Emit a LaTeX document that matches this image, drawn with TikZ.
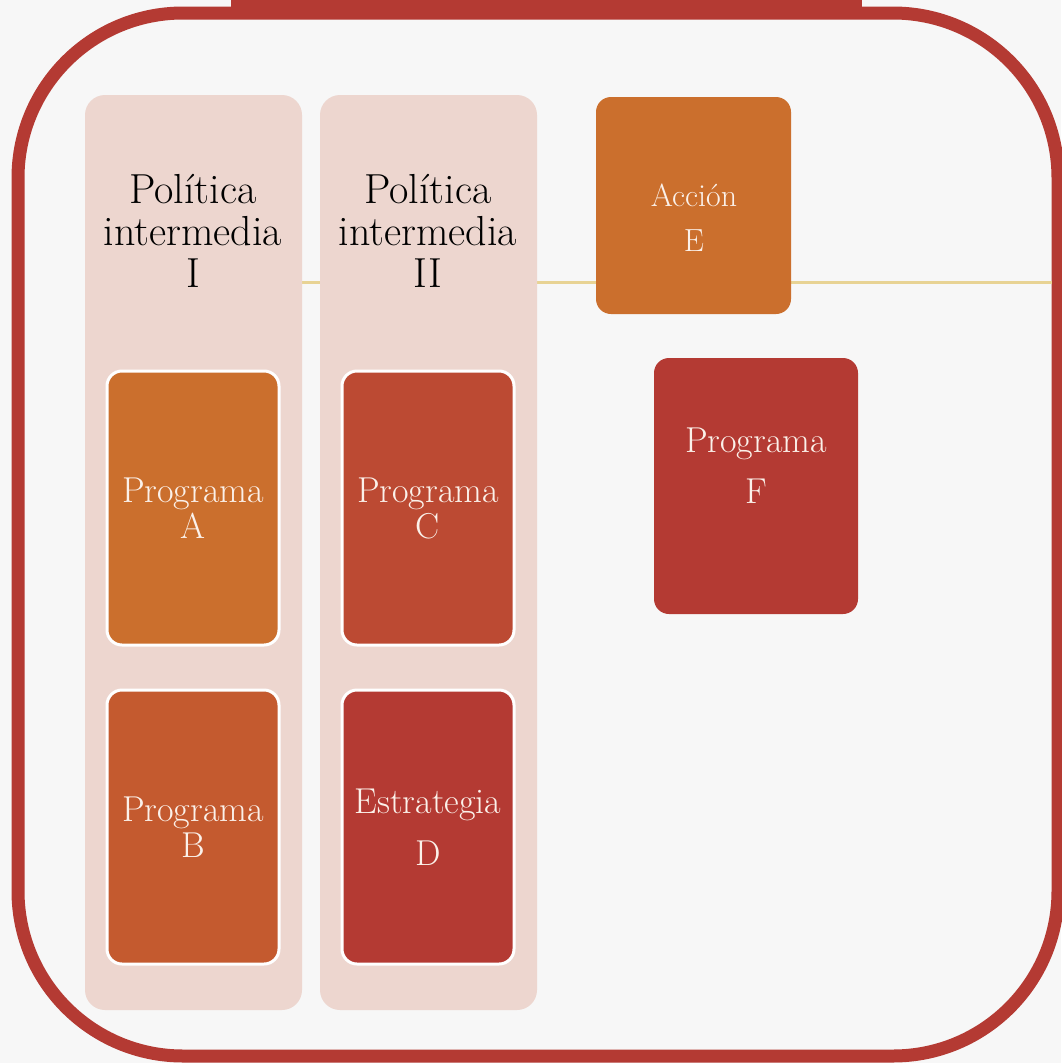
\documentclass[tikz,border=0pt]{standalone}
\usepackage{fontspec}
\definecolor{bg}{HTML}{F7F7F7}
\definecolor{frame}{HTML}{B43A33}
\definecolor{colfill}{HTML}{EDD6CF}
\definecolor{orangeA}{HTML}{CB6F2D}
\definecolor{orangeB}{HTML}{C45A2F}
\definecolor{redC}{HTML}{BC4A33}
\definecolor{redD}{HTML}{B43A33}
\definecolor{goldline}{HTML}{E8D394}
\definecolor{boxtext}{HTML}{FBF1EA}
\begin{document}
\begin{tikzpicture}[x=1pt,y=-1pt,
  column/.style={fill=colfill, rounded corners=20pt, draw=none},
  coltitle/.style={align=center, text=black, font=\fontsize{42}{42}\selectfont, inner sep=0pt},
  itembox/.style={draw=white, line width=3pt, rounded corners=15pt, minimum width=172pt, minimum height=274pt, align=center, text=boxtext, font=\fontsize{36}{36}\selectfont, inner sep=0pt},
  freebox/.style={draw=none, rounded corners=15pt, align=center, text=boxtext, inner sep=0pt}
]
\useasboundingbox (0,0) rectangle (1061,1063);
\fill[bg] (0,0) rectangle (1061,1063);
% outer frame
\draw[frame, line width=13pt, rounded corners=165pt] (18,13) rectangle (1058,1056);
\fill[frame] (231,0) rectangle (862,19);
% gold line
\coordinate (lineL) at (90,282);
\coordinate (lineR) at (1052,282);
\draw[goldline, line width=3pt] (lineL) -- (lineR);
% columns
\node[column, minimum width=217pt, minimum height=915pt] (col1) at (193.5,552.5) {};
\node[column, minimum width=217pt, minimum height=915pt] (col2) at (428.5,552.5) {};
\node[coltitle] (t1) at (193,231) {Política\\intermedia\\I};
\node[coltitle] (t2) at (428,231) {Política\\intermedia\\II};
% item boxes
\node[itembox, fill=orangeA] (A) at (193,508) {Programa\\A};
\node[itembox, fill=orangeB] (B) at (193,827) {Programa\\B};
\node[itembox, fill=redC] (C) at (428,508) {Programa\\C};
\node[itembox, fill=redD, font=\fontsize{36}{52}\selectfont] (D) at (428,827) {Estrategia\\D};
% free boxes
\node[freebox, fill=orangeA, minimum width=195pt, minimum height=217pt] (E) at (693.5,205.5) {};
\node[align=center, text=boxtext, font=\fontsize{32}{45}\selectfont, inner sep=0pt] (Et) at (694,218) {Acción\\E};
\node[freebox, fill=redD, minimum width=204pt, minimum height=256pt] (F) at (756,486) {};
\node[align=center, text=boxtext, font=\fontsize{36}{51}\selectfont, inner sep=0pt] (Ft) at (756,466) {Programa\\F};
\end{tikzpicture}
\end{document}
